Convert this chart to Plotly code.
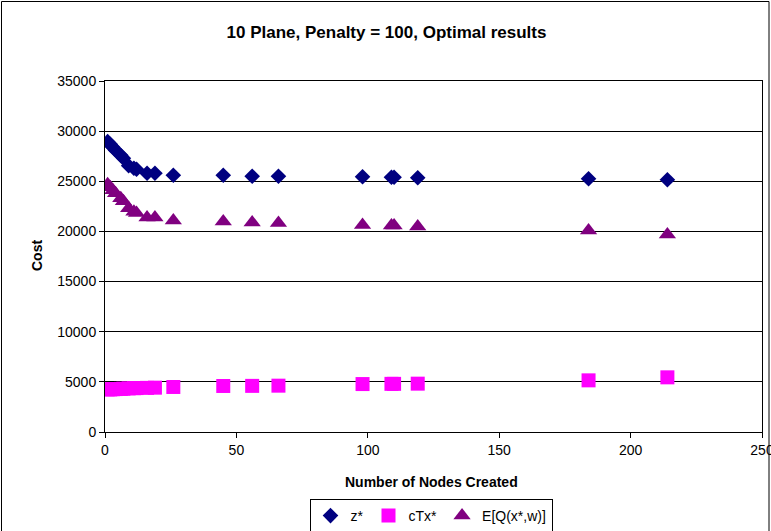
import plotly.graph_objects as go

# ---- data ----
nodes = [1, 2, 3, 4, 6, 7, 9, 11, 12, 16, 19, 26, 45, 56, 66, 98, 109, 110, 119, 184, 214]
z_star = [28950, 28700, 28400, 28100, 27600, 27300, 26550, 26300, 26200, 25800, 25800,
          25600, 25600, 25500, 25500, 25450, 25400, 25400, 25350, 25250, 25150]
ctx_star = [4250, 4250, 4270, 4280, 4300, 4320, 4350, 4370, 4380, 4400, 4420,
            4490, 4590, 4600, 4620, 4780, 4800, 4800, 4820, 5150, 5450]
eq_star = [24700, 24400, 24100, 23800, 23300, 23000, 22300, 21950, 21850, 21400, 21400,
           21100, 21000, 20900, 20850, 20650, 20600, 20600, 20500, 20100, 19700]

series_names = ["z*", "cTx*", "E[Q(x*,w)]"]
title_text = "10 Plane, Penalty = 100, Optimal results"
x_title = "Number of Nodes Created"
y_title = "Cost"
x_ticks = [0, 50, 100, 150, 200, 250]
x_ticklabels = ["0", "50", "100", "150", "200", "250"]
y_ticks = [0, 5000, 10000, 15000, 20000, 25000, 30000, 35000]
y_ticklabels = ["0", "5000", "10000", "15000", "20000", "25000", "30000", "35000"]

FONT = "Arial, Liberation Sans, sans-serif"
W, H = 771, 531
L, R, T, B = 105, 762, 81, 432  # plot area in pixels


def px_to_paper(px, py):
    return (px - L) / (R - L), (B - py) / (B - T)


fig = go.Figure()
fig.add_trace(go.Scatter(x=nodes, y=z_star, mode="markers", name=series_names[0],
                         marker=dict(symbol="diamond", size=12, color="#000080")))
fig.add_trace(go.Scatter(x=nodes, y=ctx_star, mode="markers", name=series_names[1],
                         marker=dict(symbol="square", size=14, color="#FF00FF")))
fig.add_trace(go.Scatter(x=nodes, y=eq_star, mode="markers", name=series_names[2],
                         marker=dict(symbol="triangle-up", size=15, color="#800080")))

axis_common = dict(showline=True, linecolor="black", linewidth=1, mirror=True,
                   ticks="outside", ticklen=5, tickcolor="black", tickwidth=1,
                   zeroline=False, automargin=False, ticklabeloverflow="allow",
                   tickfont=dict(family=FONT, size=14, color="black"))

fig.update_xaxes(range=[-0.001, 250.001], tickvals=x_ticks, ticktext=x_ticklabels,
                 showgrid=False, **axis_common)
fig.update_yaxes(range=[0, 35000], tickvals=y_ticks, ticktext=y_ticklabels,
                 showgrid=True, gridcolor="black", gridwidth=1, **axis_common)

# outer chart border
x0, y0 = px_to_paper(1.5, 1.5)
x1, y1 = px_to_paper(769, 545)
fig.add_shape(type="rect", xref="paper", yref="paper", x0=x0, y0=y1, x1=x1, y1=y0,
              line=dict(color="black", width=1), fillcolor="rgba(0,0,0,0)", layer="above")

# axis titles
ax, ay = px_to_paper(431, 482)
fig.add_annotation(text="<b>%s</b>" % x_title, xref="paper", yref="paper", x=ax, y=ay,
                   showarrow=False, xanchor="center", yanchor="middle",
                   font=dict(family=FONT, size=14, color="black"))
ax, ay = px_to_paper(37, 256)
fig.add_annotation(text="<b>%s</b>" % y_title, xref="paper", yref="paper", x=ax, y=ay,
                   showarrow=False, xanchor="center", yanchor="middle", textangle=-90,
                   font=dict(family=FONT, size=14, color="black"))

fig.update_layout(
    width=W, height=H,
    margin=dict(l=L, r=W - R, t=T, b=H - B, pad=0, autoexpand=False),
    paper_bgcolor="white", plot_bgcolor="white",
    title=dict(text="<b>%s</b>" % title_text, x=(W + 2) / (2 * W), xanchor="center",
               y=1 - 32 / H, yanchor="middle", yref="container",
               font=dict(family=FONT, size=17, color="black")),
    showlegend=True,
    legend=dict(orientation="h", x=431 / W, y=1 - 516 / H, xanchor="center", yanchor="middle",
                xref="container", yref="container",
                bordercolor="black", borderwidth=1, bgcolor="white",
                font=dict(family=FONT, size=14, color="black"),
                itemwidth=30, tracegroupgap=0),
)

fig.write_html("out.html")
